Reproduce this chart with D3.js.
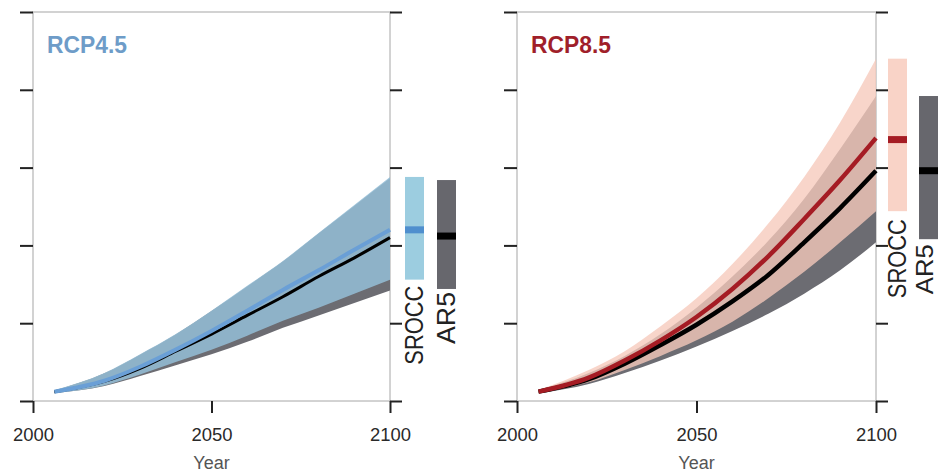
<!DOCTYPE html>
<html>
<head>
<meta charset="utf-8">
<script src="https://cdn.jsdelivr.net/npm/d3@7"></script>
<style>
  body { margin: 0; background: #fff; }
  svg { display: block; font-family: "Liberation Sans", Arial, sans-serif; }
</style>
</head>
<body>
<script>
// sea level rise (m)
var years = [2006, 2020, 2030, 2040, 2050, 2060, 2070, 2080, 2090, 2100];

var rcp45SroccMedian = [0.03, 0.065, 0.11, 0.165, 0.225, 0.29, 0.357, 0.42, 0.486, 0.55];
var rcp45SroccLow    = [0.025, 0.05, 0.085, 0.125, 0.165, 0.21, 0.258, 0.30, 0.345, 0.39];
var rcp45SroccHigh   = [0.035, 0.09, 0.15, 0.215, 0.29, 0.37, 0.45, 0.54, 0.63, 0.72];
var rcp45Ar5Median   = [0.03, 0.063, 0.105, 0.16, 0.215, 0.275, 0.335, 0.40, 0.46, 0.525];
var rcp45Ar5Low      = [0.025, 0.048, 0.08, 0.115, 0.15, 0.19, 0.235, 0.275, 0.315, 0.355];
var rcp45Ar5High     = [0.034, 0.089, 0.149, 0.214, 0.289, 0.368, 0.448, 0.538, 0.627, 0.716];

var rcp85SroccMedian = [0.03, 0.075, 0.13, 0.195, 0.27, 0.36, 0.465, 0.585, 0.71, 0.845];
var rcp85SroccLow    = [0.025, 0.06, 0.10, 0.145, 0.195, 0.255, 0.33, 0.415, 0.51, 0.61];
var rcp85SroccHigh   = [0.035, 0.10, 0.16, 0.24, 0.33, 0.44, 0.57, 0.72, 0.895, 1.10];
var rcp85Ar5Median   = [0.03, 0.07, 0.12, 0.18, 0.245, 0.32, 0.405, 0.51, 0.62, 0.74];
var rcp85Ar5Low      = [0.025, 0.055, 0.09, 0.13, 0.175, 0.225, 0.28, 0.345, 0.42, 0.51];
var rcp85Ar5High     = [0.035, 0.09, 0.145, 0.215, 0.30, 0.40, 0.515, 0.65, 0.81, 0.98];

// 2100 bars: [low, median, high]
var rcp45SroccBar = [0.39, 0.55, 0.72];
var rcp45Ar5Bar   = [0.36, 0.53, 0.71];
var rcp85SroccBar = [0.61, 0.84, 1.10];
var rcp85Ar5Bar   = [0.52, 0.74, 0.98];

var yTicks = [0, 0.25, 0.5, 0.75, 1.0, 1.25];
var xTicks = [2000, 2050, 2100];
var barLabels = ['SROCC', 'AR5'];

var svg = d3.select('body').append('svg')
  .attr('width', 940)
  .attr('height', 474);

function zip (lo, hi) {
  return years.map(function (yr, i) { return {yr: yr, lo: lo[i], hi: hi[i]}; });
}

function panel (opt) {
  var x = d3.scaleLinear().domain([2000, 2100]).range([opt.left, opt.right]),
      y = d3.scaleLinear().domain([0, 1.25]).range([401, 12]);

  var g = svg.append('g');

  // frame
  g.append('rect')
    .attr('x', opt.left).attr('y', 12)
    .attr('width', opt.right - opt.left).attr('height', 401 - 12)
    .attr('fill', 'none').attr('stroke', '#c4c4c4').attr('stroke-width', 1.5);

  var area = d3.area()
    .curve(d3.curveMonotoneX)
    .x(function (d) { return x(d.yr); })
    .y0(function (d) { return y(d.lo); })
    .y1(function (d) { return y(d.hi); });

  var line = d3.line()
    .curve(d3.curveMonotoneX)
    .x(function (d) { return x(d.yr); })
    .y(function (d) { return y(d.lo); });

  g.append('path').attr('d', area(zip(opt.ar5Low, opt.ar5High)))
    .attr('fill', '#6c6c72');
  g.append('path').attr('d', area(zip(opt.srLow, opt.srHigh)))
    .attr('fill', opt.bandColor).attr('fill-opacity', opt.bandOpacity);

  opt.lines.forEach(function (l) {
    g.append('path').attr('d', line(zip(l.values, l.values)))
      .attr('fill', 'none').attr('stroke', l.color).attr('stroke-width', l.width);
  });

  // axes
  var yl = g.append('g').attr('transform', 'translate(' + opt.left + ',0)')
    .call(d3.axisLeft(y).tickValues(yTicks).tickFormat('').tickSize(13).tickSizeOuter(0));
  var yr = g.append('g').attr('transform', 'translate(' + opt.right + ',0)')
    .call(d3.axisRight(y).tickValues(yTicks).tickFormat('').tickSize(12).tickSizeOuter(0));
  var xb = g.append('g').attr('transform', 'translate(0,401)')
    .call(d3.axisBottom(x).tickValues(xTicks).tickFormat(d3.format('d')).tickSize(12).tickSizeOuter(0).tickPadding(15));

  [yl, yr, xb].forEach(function (a) {
    a.select('.domain').remove();
    a.selectAll('.tick line').attr('stroke', '#222').attr('stroke-width', 2);
  });
  xb.selectAll('.tick text')
    .attr('font-size', 19).attr('fill', '#2a2a2a')
    .attr('font-family', '"Liberation Sans", Arial, sans-serif')
    .attr('textLength', 41).attr('lengthAdjust', 'spacingAndGlyphs');

  g.append('text')
    .attr('x', x(2050)).attr('y', 469)
    .attr('text-anchor', 'middle')
    .attr('font-size', 18).attr('fill', '#555')
    .text('Year');

  g.append('text')
    .attr('x', opt.left + 14).attr('y', 53)
    .attr('font-size', 24).attr('font-weight', 'bold')
    .attr('fill', opt.titleColor)
    .attr('textLength', 80).attr('lengthAdjust', 'spacingAndGlyphs')
    .text(opt.title);

  // 2100 range bars
  opt.bars.forEach(function (b, i) {
    var bx = opt.right + b.offset, bw = 19;
    g.append('rect')
      .attr('x', bx).attr('width', bw)
      .attr('y', y(b.values[2])).attr('height', y(b.values[0]) - y(b.values[2]))
      .attr('fill', b.color);
    g.append('rect')
      .attr('x', bx).attr('width', bw)
      .attr('y', y(b.values[1]) - 3.5).attr('height', 7)
      .attr('fill', b.mid);
    g.append('text')
      .attr('transform', 'translate(' + (bx + bw - (b.inset || 1)) + ',' + (y(b.values[0]) + b.gap) + ') rotate(-90)')
      .attr('text-anchor', 'end')
      .attr('font-size', b.size || 25).attr('fill', '#222')
      .attr('textLength', b.len).attr('lengthAdjust', 'spacingAndGlyphs')
      .text(barLabels[i]);
  });
}

panel({
  left: 33, right: 390,
  title: 'RCP4.5', titleColor: '#6e9cc8',
  srLow: rcp45SroccLow, srHigh: rcp45SroccHigh,
  ar5Low: rcp45Ar5Low, ar5High: rcp45Ar5High,
  bandColor: '#94bed6', bandOpacity: 0.86,
  lines: [
    {values: rcp45Ar5Median, color: '#000', width: 3},
    {values: rcp45SroccMedian, color: '#6a9fd6', width: 4}
  ],
  bars: [
    {values: rcp45SroccBar, offset: 15, color: '#9ccde0', mid: '#4f8fce', gap: 6, len: 79},
    {values: rcp45Ar5Bar, offset: 47, color: '#67676d', mid: '#000', gap: 3, len: 52}
  ]
});

panel({
  left: 517, right: 876,
  title: 'RCP8.5', titleColor: '#a01f2a',
  srLow: rcp85SroccLow, srHigh: rcp85SroccHigh,
  ar5Low: rcp85Ar5Low, ar5High: rcp85Ar5High,
  bandColor: '#f6c9bb', bandOpacity: 0.785,
  lines: [
    {values: rcp85Ar5Median, color: '#000', width: 4.5},
    {values: rcp85SroccMedian, color: '#a51c24', width: 4.5}
  ],
  bars: [
    {values: rcp85SroccBar, offset: 12, color: '#f9d3c7', mid: '#a51c24', gap: 8, len: 79},
    {values: rcp85Ar5Bar, offset: 43, color: '#67676d', mid: '#000', gap: 5, len: 50, size: 23, inset: 5}
  ]
});
</script>
</body>
</html>
